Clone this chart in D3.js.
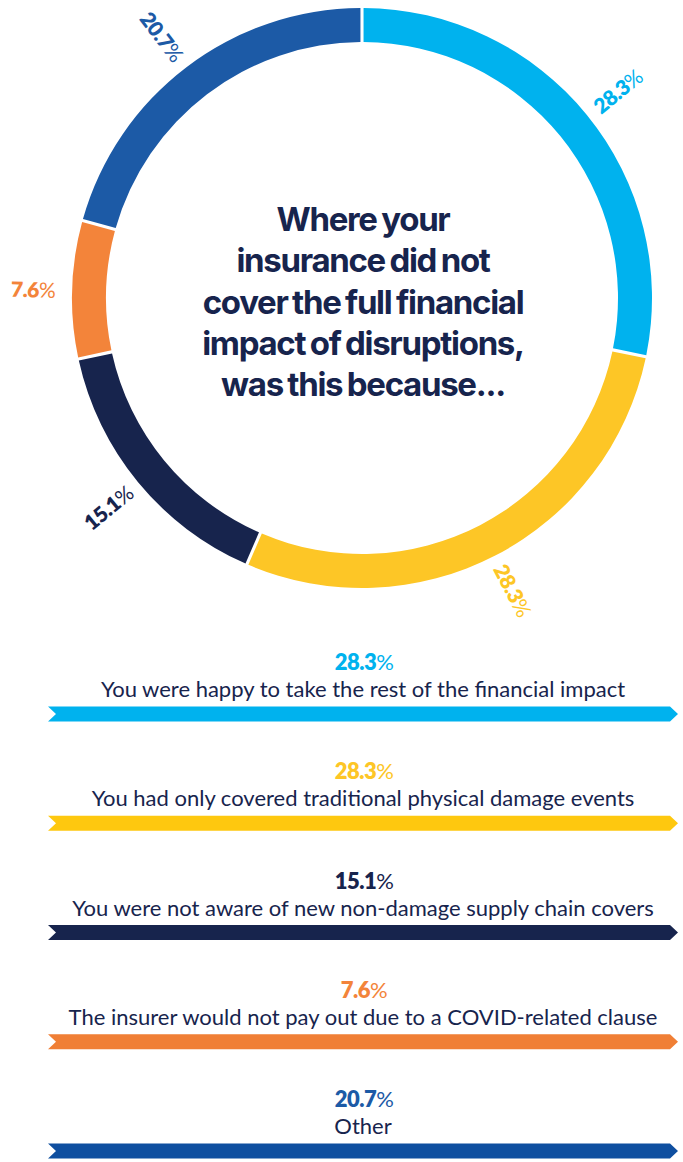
<!DOCTYPE html>
<html>
<head>
<meta charset="utf-8">
<script src="https://cdn.jsdelivr.net/npm/d3@7"></script>
<style>
  html, body { margin: 0; padding: 0; background: #ffffff; }
  svg { display: block; }
</style>
</head>
<body>
<svg id="chart" width="683" height="1162"></svg>
<script>
// ---- Data ----
const categories = [
  "You were happy to take the rest of the financial impact",
  "You had only covered traditional physical damage events",
  "You were not aware of new non-damage supply chain covers",
  "The insurer would not pay out due to a COVID-related clause",
  "Other"
];
const values = [28.3, 28.3, 15.1, 7.6, 20.7];
const valueLabels = ["28.3", "28.3", "15.1", "7.6", "20.7"];
const ringColors = ["#00b2ee", "#fdc626", "#17244d", "#f3843a", "#1c5aa6"];
const bandColors = ["#00b2ee", "#fec80f", "#17244d", "#f07f35", "#0f4fa0"];
const titleLines = [
  "Where your",
  "insurance did not",
  "cover the full financial",
  "impact of disruptions,",
  "was this because..."
];

// ---- Layout ----
const W = 683, H = 1162;
const cx = 362, cy = 298;
const outerR = 290, innerR = 256, labelR = 329;
const navy = "#17244d";

const svg = d3.select("#chart");

// ---- Donut ----
const pie = d3.pie().sort(null).value(d => d).padAngle(0.008);
const arcs = pie(values);
const arc = d3.arc().innerRadius(innerR).outerRadius(outerR);

const g = svg.append("g").attr("transform", `translate(${cx},${cy})`);
g.selectAll("path.seg")
  .data(arcs)
  .join("path")
  .attr("class", "seg")
  .attr("d", arc)
  .attr("fill", (d, i) => ringColors[i]);

// ring labels, placed radially
const lab = g.selectAll("text.rl")
  .data(arcs)
  .join("text")
  .attr("class", "rl")
  .attr("transform", d => {
    const a = (d.startAngle + d.endAngle) / 2;
    const deg = a * 180 / Math.PI;
    const x = Math.sin(a) * labelR, y = -Math.cos(a) * labelR;
    const rot = deg < 180 ? deg - 90 : deg + 90;
    return `translate(${x},${y}) rotate(${rot})`;
  })
  .attr("text-anchor", "middle")
  .attr("dominant-baseline", "central")
  .attr("font-family", "Lato, 'Open Sans', sans-serif")
  .attr("font-size", 21)
  .attr("letter-spacing", -0.5)
  .attr("fill", (d, i) => ringColors[i]);
lab.append("tspan").attr("font-weight", 800).text((d, i) => valueLabels[i]);
lab.append("tspan").attr("font-weight", 400).text("%");

// center title
const title = svg.append("text")
  .attr("text-anchor", "middle")
  .attr("font-family", "Inter, 'Noto Sans', sans-serif")
  .attr("font-weight", 700)
  .attr("font-size", 33)
  .attr("letter-spacing", -1.3)
  .attr("word-spacing", -2)
  .attr("fill", navy);
title.selectAll("tspan")
  .data(titleLines)
  .join("tspan")
  .attr("x", cx + 1)
  .attr("y", (d, i) => 231 + i * 41.3)
  .text(d => d);

// ---- Legend list ----
const yScale = d3.scaleLinear().domain([0, categories.length - 1]).range([714, 1151]);
const bandX0 = 48, bandX1 = 670, bandH = 15, tip = 8;

const items = svg.selectAll("g.item")
  .data(categories)
  .join("g")
  .attr("class", "item")
  .attr("transform", (d, i) => `translate(0,${yScale(i)})`);

items.append("path")
  .attr("d", () => {
    const p = d3.path();
    p.moveTo(bandX0, -bandH / 2);
    p.lineTo(bandX1, -bandH / 2);
    p.lineTo(bandX1 + tip, 0);
    p.lineTo(bandX1, bandH / 2);
    p.lineTo(bandX0, bandH / 2);
    p.lineTo(bandX0 + tip, 0);
    p.closePath();
    return p.toString();
  })
  .attr("fill", (d, i) => bandColors[i]);

items.append("text")
  .attr("x", cx + 1)
  .attr("y", -17)
  .attr("text-anchor", "middle")
  .attr("font-family", "Lato, 'Open Sans', sans-serif")
  .attr("font-weight", 400)
  .attr("font-size", 22)
  .attr("fill", navy)
  .text(d => d);

const pct = items.append("text")
  .attr("x", cx + 2)
  .attr("y", -44)
  .attr("text-anchor", "middle")
  .attr("font-family", "Lato, 'Open Sans', sans-serif")
  .attr("font-size", 22)
  .attr("letter-spacing", -0.5)
  .attr("fill", (d, i) => ringColors[i]);
pct.append("tspan").attr("font-weight", 800).text((d, i) => valueLabels[i]);
pct.append("tspan").attr("font-weight", 400).text("%");
</script>
</body>
</html>
